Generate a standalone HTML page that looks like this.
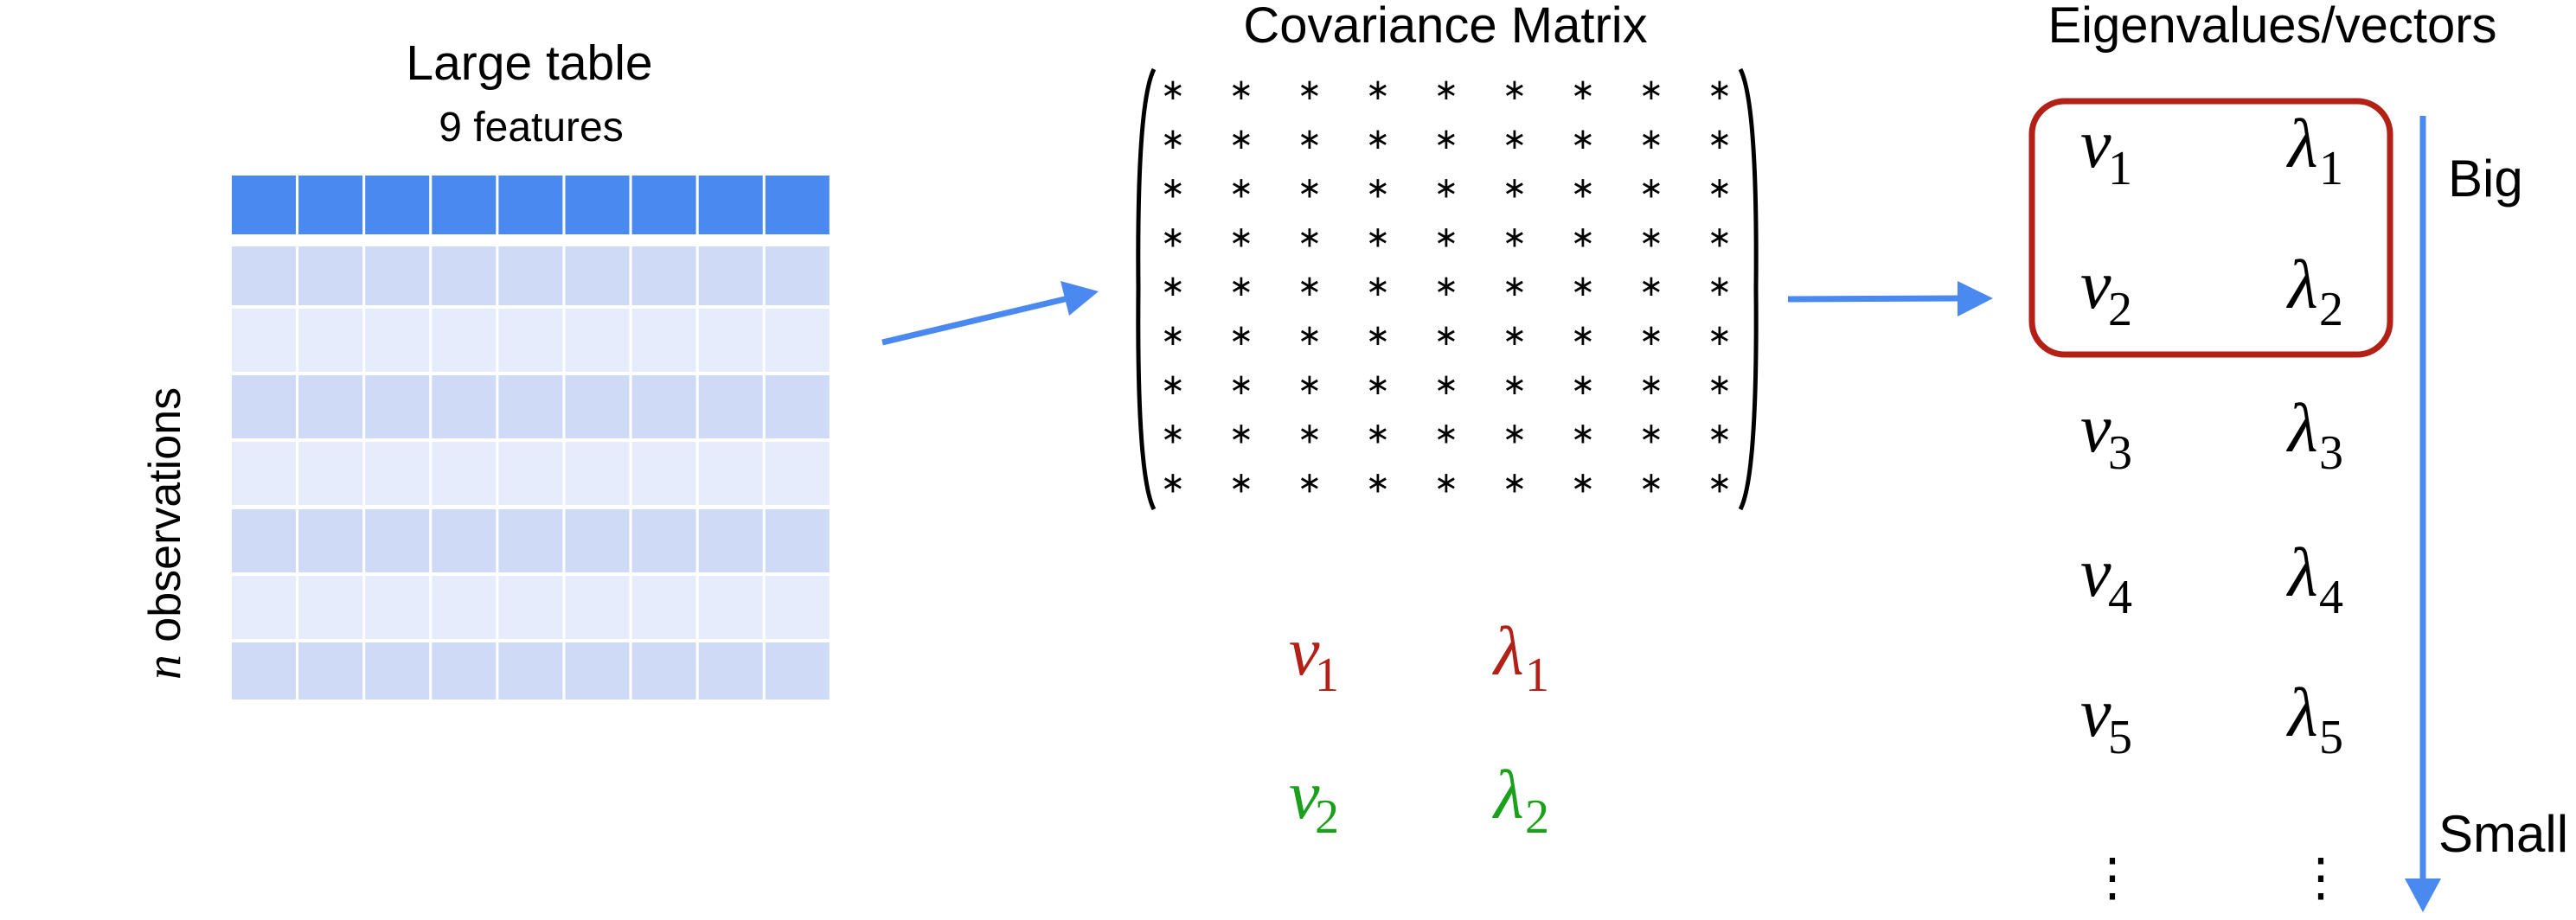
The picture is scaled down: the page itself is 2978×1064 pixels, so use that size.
<!DOCTYPE html>
<html><head><meta charset="utf-8"><style>
html,body{margin:0;padding:0;background:#fff;}
svg{display:block;}
.sans{font-family:"Liberation Sans",sans-serif;}
.serif{font-family:"Liberation Serif","DejaVu Serif",serif;font-style:italic;}
.sub{font-family:"Liberation Serif","DejaVu Serif",serif;font-style:normal;}
</style></head><body>
<svg id="fig" width="2978" height="1064" viewBox="0 0 2978 1064" xmlns="http://www.w3.org/2000/svg">
<text class="sans" x="612" y="92" font-size="57" text-anchor="middle">Large table</text>
<text class="sans" x="614" y="163" font-size="48" text-anchor="middle">9 features</text>
<g id="table"></g>
<text transform="translate(208,617) rotate(-90)" class="sans" font-size="52" text-anchor="middle"><tspan class="serif" font-size="58">n</tspan> observations</text>
<g>
<line x1="1020" y1="396" x2="1235" y2="345" stroke="#4a89f0" stroke-width="7"/>
<polygon points="1270,337 1226,325 1236,365" fill="#4a89f0"/>
</g>
<text class="sans" x="1671" y="49" font-size="58" text-anchor="middle">Covariance Matrix</text>
<path d="M1334,80 Q1314,120 1316,334 Q1314,550 1334,589" fill="none" stroke="#000" stroke-width="5"/>
<path d="M2012,80 Q2032,120 2030,334 Q2032,550 2012,589" fill="none" stroke="#000" stroke-width="5"/>
<g id="matrix"></g>
<g>
<text class="serif" x="1490" y="780" font-size="80" fill="#b22016">v</text>
<text class="sub" x="1520" y="799" font-size="56" fill="#b22016">1</text>
<text class="serif" x="1727" y="780" font-size="80" fill="#b22016">λ</text>
<text class="sub" x="1763" y="799" font-size="56" fill="#b22016">1</text>
<text class="serif" x="1490" y="946" font-size="80" fill="#1aa01a">v</text>
<text class="sub" x="1520" y="963" font-size="56" fill="#1aa01a">2</text>
<text class="serif" x="1727" y="946" font-size="80" fill="#1aa01a">λ</text>
<text class="sub" x="1763" y="963" font-size="56" fill="#1aa01a">2</text>
</g>
<g>
<line x1="2067" y1="346" x2="2270" y2="345" stroke="#4a89f0" stroke-width="7"/>
<polygon points="2304,345 2263,325 2263,366" fill="#4a89f0"/>
</g>
<text class="sans" x="2627" y="49" font-size="58" text-anchor="middle">Eigenvalues/vectors</text>
<rect x="2349" y="117" width="414" height="293" rx="38" fill="none" stroke="#b22016" stroke-width="7"/>
<g id="eigen"></g>
<g>
<line x1="2801" y1="134" x2="2801" y2="1020" stroke="#4a89f0" stroke-width="7"/>
<polygon points="2780,1016 2822,1016 2801,1055" fill="#4a89f0"/>
</g>
<text class="sans" x="2830" y="227" font-size="60">Big</text>
<text class="sans" x="2819" y="985" font-size="60">Small</text>
<text class="sub" x="2442" y="1035" font-size="60" text-anchor="middle">⋮</text>
<text class="sub" x="2683" y="1035" font-size="60" text-anchor="middle">⋮</text>
</svg>
<script>
const NS = "http://www.w3.org/2000/svg";
const featureCols = [1,2,3,4,5,6,7,8,9];
const rowTops = [285,357,434,511,589,666,743];
const rowShades = ["dark","light","dark","light","dark","light","dark"];
const matrixRows = [1,2,3,4,5,6,7,8,9];
const matrixCols = [1,2,3,4,5,6,7,8,9];
const eigenIndex = ["1","2","3","4","5"];

const tbl = document.getElementById('table');
const colX = i => 268 + i * 77.1;
featureCols.forEach((c, i) => {
  const r = document.createElementNS(NS, 'rect');
  r.setAttribute('x', colX(i)); r.setAttribute('y', 203);
  r.setAttribute('width', 74); r.setAttribute('height', 68);
  r.setAttribute('fill', '#4a89f0');
  
  
  tbl.appendChild(r);
});
rowTops.forEach((y, j) => {
  const h = j === 0 ? 68 : (j === rowTops.length - 1 ? 66 : 73);
  featureCols.forEach((c, i) => {
    const r = document.createElementNS(NS, 'rect');
    r.setAttribute('x', colX(i)); r.setAttribute('y', y);
    r.setAttribute('width', 74); r.setAttribute('height', h);
    r.setAttribute('fill', rowShades[j] === 'dark' ? '#cfdaf7' : '#e6ecfb');
    
    
    tbl.appendChild(r);
  });
});

const mat = document.getElementById('matrix');
matrixRows.forEach((rr, j) => {
  matrixCols.forEach((cc, i) => {
    const t = document.createElementNS(NS, 'text');
    t.setAttribute('x', 1356 + i * 79); t.setAttribute('y', 115 + j * 56.8);
    t.setAttribute('text-anchor', 'middle');
    t.setAttribute('font-size', '34');
    t.setAttribute('font-family', '"DejaVu Sans", sans-serif');
    t.textContent = '∗';
    
    
    mat.appendChild(t);
  });
});

const eig = document.getElementById('eigen');
eigenIndex.forEach((k, j) => {
  const yb = [193,356,522,689,851][j];
  const parts = [[2405, 'v'], [2645, 'λ']];
  parts.forEach(([x, sym]) => {
    const t = document.createElementNS(NS, 'text');
    t.setAttribute('x', x); t.setAttribute('y', yb);
    t.setAttribute('class', 'serif'); t.setAttribute('font-size', '80');
    t.textContent = sym;
    
    
    eig.appendChild(t);
    const s = document.createElementNS(NS, 'text');
    s.setAttribute('x', x + (sym === 'v' ? 32 : 36)); s.setAttribute('y', yb + 20);
    s.setAttribute('class', 'sub'); s.setAttribute('font-size', '56');
    s.textContent = k;
    
    
    eig.appendChild(s);
  });
});
</script>
</body></html>
